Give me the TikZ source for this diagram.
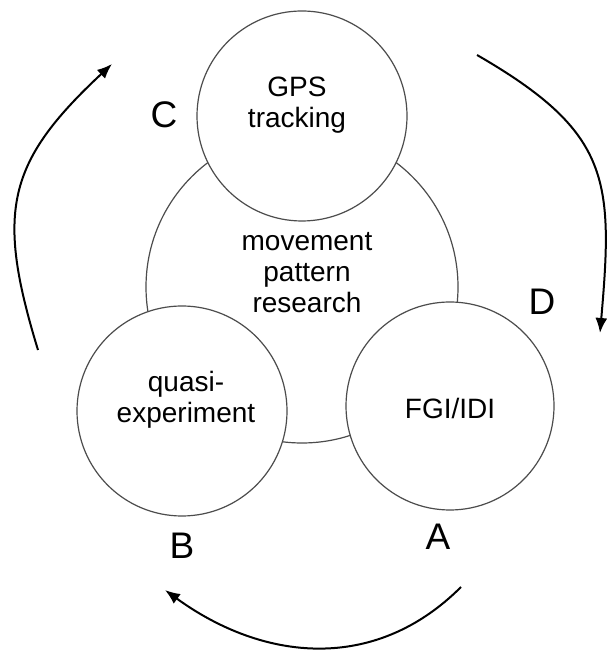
\documentclass[tikz,border=0pt]{standalone}
\usepackage{fontspec}
\setmainfont{Liberation Sans}
\usetikzlibrary{arrows.meta}
\begin{document}
\begin{tikzpicture}[x=1pt, y=1pt,
        main/.style = {draw=black!70, line width=1.2pt, circle, fill=white, inner sep=0pt},
        txt/.style = {align=center, font=\fontsize{28}{31}\selectfont},
        lbl/.style = {font=\fontsize{37}{37}\selectfont},
        turn/.style = {line width=2pt, -{Latex[length=15pt, width=12pt]}}]
        \useasboundingbox (0,0) rectangle (606,652);
        \node[main, minimum size=312pt] (core) at (302,365) {};
        \node[main, minimum size=210pt] (gps) at (302,536) {};
        \node[main, minimum size=210pt] (quasi) at (182,241) {};
        \node[main, minimum size=208pt] (fgi) at (450,246) {};
        \node[txt] (coret) at (307,379) {movement\\pattern\\research};
        \node[txt] (gpst) at (297,547) {GPS\\tracking};
        \node[txt] (quasit) at (186,252) {quasi-\\experiment};
        \node[txt] (fgit) at (450,244) {FGI/IDI};
        \node[lbl] (c) at (164,537) {C};
        \node[lbl] (d) at (542,350) {D};
        \node[lbl] (b) at (182,106) {B};
        \node[lbl] (a) at (438,115) {A};
        \coordinate (l1) at (38,302);
        \coordinate (l2) at (112,588);
        \coordinate (r1) at (477,597);
        \coordinate (r2) at (600,319);
        \coordinate (b1) at (461,65);
        \coordinate (b2) at (165,62);
        \draw[turn] (l1) to[out=107, in=223, looseness=1.25] (l2);
        \draw[turn] (r1) to[out=-30, in=85, looseness=1.3] (r2);
        \draw[turn] (b1) to[out=225, in=-36, looseness=1.05] (b2);
    \end{tikzpicture}
\end{document}
